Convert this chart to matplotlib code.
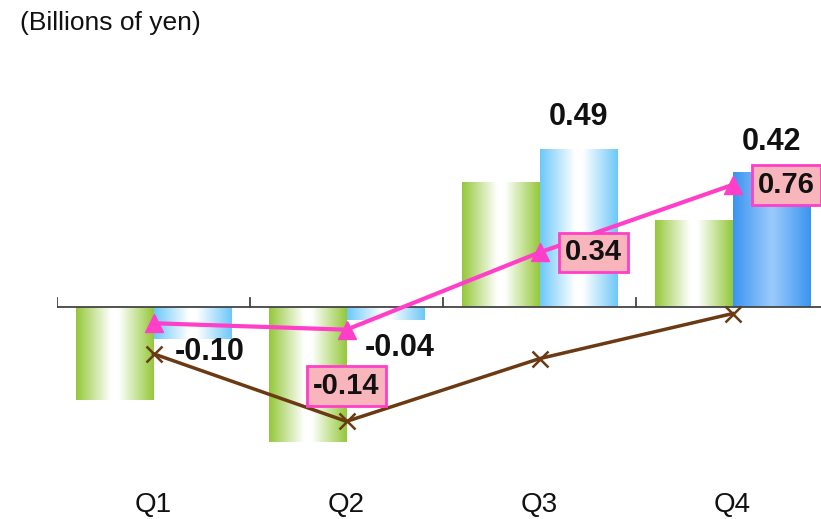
import numpy as np
import matplotlib
matplotlib.use('Agg')
from matplotlib import pyplot as plt
from matplotlib.colors import LinearSegmentedColormap

plt.rcParams['font.family'] = ['Liberation Sans', 'DejaVu Sans']

quarters = ['Q1', 'Q2', 'Q3', 'Q4']
prev_year = [-0.29, -0.42, 0.39, 0.27]        # green bars
this_year = [-0.10, -0.04, 0.49, 0.42]        # blue bars
prev_cumulative = [-0.29, -0.71, -0.32, -0.04]  # brown line
this_cumulative = [-0.10, -0.14, 0.34, 0.76]    # magenta line

x = np.arange(len(quarters))
bar_w = 0.4

fig = plt.figure(figsize=(8.21, 5.19), dpi=100)
# axes run slightly past the right edge of the figure
ax = fig.add_axes([57 / 821, 59 / 519, 772 / 821, 400 / 519])
ax2 = ax.twinx()

ymin, ymax = -0.475, 0.768
ax.set_ylim(ymin, ymax)
ax2.set_ylim(2 * ymin, 2 * ymax)
ax.set_xlim(-0.5, 3.5)

green_cm = LinearSegmentedColormap.from_list(
    'g', [(0, '#94c83a'), (0.45, '#ffffff'), (0.55, '#ffffff'), (1, '#94c83a')])
light_cm = LinearSegmentedColormap.from_list(
    'lb', [(0, '#6cc8f8'), (0.45, '#ffffff'), (0.55, '#ffffff'), (1, '#6cc8f8')])
dark_cm = LinearSegmentedColormap.from_list(
    'db', [(0, '#3a95f0'), (0.5, '#9ccbfc'), (1, '#3a95f0')])

grad = np.linspace(0, 1, 256).reshape(1, -1)


def gradient_bars(xs, heights, cmaps):
    bars = ax.bar(xs, heights, bar_w, align='edge', facecolor='none',
                  edgecolor='none', zorder=2)
    for rect, cm in zip(bars, cmaps):
        x0, y0 = rect.get_x(), rect.get_y()
        w, h = rect.get_width(), rect.get_height()
        im = ax.imshow(grad, cmap=cm, aspect='auto', zorder=2,
                       extent=(x0, x0 + w, y0, y0 + h), interpolation='bicubic')
        im.set_clip_path(rect)
    return bars


gradient_bars(x - bar_w, prev_year, [green_cm] * 4)
gradient_bars(x, this_year, [light_cm, light_cm, light_cm, dark_cm])
ax.set_xlim(-0.5, 3.5)
ax.set_ylim(ymin, ymax)

# lines on the secondary scale
ax2.plot(x, prev_cumulative, color='#6b3a12', lw=2.5, marker='x', ms=11,
         mew=1.8, zorder=4)
ax2.plot(x, this_cumulative, color='#ff3fc8', lw=3, marker='^', ms=13,
         zorder=5)

# bar value labels
bold = dict(fontsize=22, fontweight='bold', color='#111111', va='center')
ax.text(x[0] + 0.11, this_year[0] - 0.04, f'{this_year[0]:.2f}', ha='left', **bold)
ax.text(x[1] + 0.095, this_year[1] - 0.088, f'{this_year[1]:.2f}', ha='left', **bold)
ax.text(x[2] + bar_w / 2, this_year[2] + 0.1, f'{this_year[2]:.2f}', ha='center', **bold)
ax.text(x[3] + bar_w / 2, this_year[3] + 0.094, f'{this_year[3]:.2f}', ha='center', **bold)

# boxed cumulative labels
box = dict(boxstyle='square,pad=0.2', facecolor='#f8b6bc', edgecolor='#ff3fc8', lw=2)
boxed = dict(ha='center', va='center', fontsize=21, fontweight='bold',
             color='#111111', bbox=box, zorder=6)
ax2.text(x[1], this_cumulative[1] - 0.35, f'{this_cumulative[1]:.2f}', **boxed)
ax2.text(x[2] + 0.28, this_cumulative[2], f'{this_cumulative[2]:.2f}', **boxed)
ax2.text(x[3] + 0.28, this_cumulative[3], f'{this_cumulative[3]:.2f}', **boxed)

# axis styling: only the zero line with upward boundary ticks
for a in (ax, ax2):
    for s in a.spines.values():
        s.set_visible(False)
    a.set_yticks([])
ax.set_xticks([])
ax.axhline(0, color='#444444', lw=1.3, zorder=3)
for b in [-0.5, 0.5, 1.5, 2.5]:
    ax.plot([b, b], [0, 0.028], color='#444444', lw=1.3, zorder=3)

for i, q in enumerate(quarters):
    ax.text(x[i], -0.615, q, ha='center', va='center', fontsize=20,
            color='#111111', clip_on=False)

fig.text(20 / 821, 1 - 23 / 519, '(Billions of yen)', ha='left', va='center',
         fontsize=19, color='#111111')

fig.savefig('out.png', dpi=100)
